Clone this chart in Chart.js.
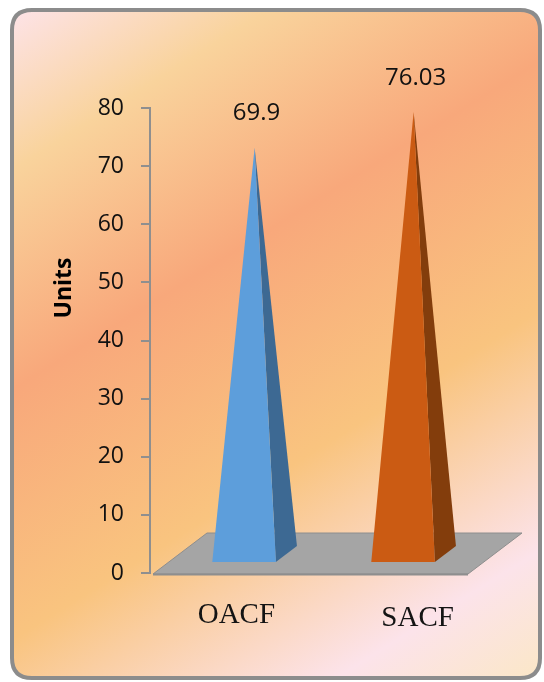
<!DOCTYPE html>
<html>
<head>
<meta charset="utf-8">
<script src="https://cdn.jsdelivr.net/npm/chart.js@4/dist/chart.umd.min.js"></script>
<style>
  html, body { margin: 0; padding: 0; background: #ffffff; }
  #wrap { width: 544px; height: 682px; }
</style>
</head>
<body>
<div id="wrap"><canvas id="chart" width="544" height="682"></canvas></div>
<script>
// Data
const categories = ['OACF', 'SACF'];
const unitValues = [69.9, 76.03];
const valueLabels = ['69.9', '76.03'];
const yMin = 0;
const yMax = 80;
const yStep = 10;
const axisTitle = 'Units';

// Look
const faceColors = ['#5d9edb', '#cb5b13'];
const sideColors = ['#3d6993', '#833d0c'];
const floorColor = '#a5a5a5';
const floorEdge = '#8e8e8e';
const axisColor = '#8f8f8f';

// 3-D projection: floor depth vector and the depth band each pyramid occupies
const DEPTH = { x: 54, y: -41 };
const BAR_BAND = [0.27, 0.66];

const FONT_SANS = "'Open Sans', 'DejaVu Sans', sans-serif";
const FONT_SERIF = "'Liberation Serif', 'Times New Roman', serif";

function roundRect(ctx, x, y, w, h, r) {
  ctx.beginPath();
  ctx.moveTo(x + r, y);
  ctx.lineTo(x + w - r, y);
  ctx.quadraticCurveTo(x + w, y, x + w, y + r);
  ctx.lineTo(x + w, y + h - r);
  ctx.quadraticCurveTo(x + w, y + h, x + w - r, y + h);
  ctx.lineTo(x + r, y + h);
  ctx.quadraticCurveTo(x, y + h, x, y + h - r);
  ctx.lineTo(x, y + r);
  ctx.quadraticCurveTo(x, y, x + r, y);
  ctx.closePath();
}

// Framed panel with the sunset gradient
const panelPlugin = {
  id: 'panel',
  beforeDraw(chart) {
    const ctx = chart.ctx;
    ctx.save();
    ctx.fillStyle = '#ffffff';
    ctx.fillRect(0, 0, chart.width, chart.height);
    const g = ctx.createLinearGradient(12, 10, 461, 730);
    g.addColorStop(0.00, '#fde3e8');
    g.addColorStop(0.16, '#f9d39c');
    g.addColorStop(0.38, '#f8a87b');
    g.addColorStop(0.63, '#f9c47f');
    g.addColorStop(0.87, '#fce3ea');
    g.addColorStop(1.00, '#fbe7c6');
    roundRect(ctx, 12, 10, 528, 668, 20);
    ctx.fillStyle = g;
    ctx.fill();
    ctx.lineWidth = 4;
    ctx.strokeStyle = '#8c8c8c';
    ctx.stroke();
    ctx.restore();
  }
};

// Floor, pyramids, value labels, category labels and axis title
const pyramidPlugin = {
  id: 'pyramids',
  beforeDatasetsDraw(chart) {
    const { ctx, chartArea, scales } = chart;
    const y0 = scales.y.getPixelForValue(0) + 1;
    const l = chartArea.left + 3, r = chartArea.right;
    ctx.save();
    ctx.beginPath();
    ctx.moveTo(l, y0);
    ctx.lineTo(r, y0);
    ctx.lineTo(r + DEPTH.x, y0 + DEPTH.y);
    ctx.lineTo(l + DEPTH.x, y0 + DEPTH.y);
    ctx.closePath();
    ctx.fillStyle = floorColor;
    ctx.fill();
    ctx.strokeStyle = floorEdge;
    ctx.lineWidth = 1;
    ctx.stroke();
    ctx.beginPath();
    ctx.moveTo(l, y0 + 0.5);
    ctx.lineTo(r, y0 + 0.5);
    ctx.lineWidth = 2;
    ctx.stroke();
    ctx.restore();
  },
  afterDatasetsDraw(chart) {
    const { ctx, scales } = chart;
    const meta = chart.getDatasetMeta(0);
    const y0 = scales.y.getPixelForValue(0);
    const f = BAR_BAND[0], b = BAR_BAND[1], m = (f + b) / 2;
    ctx.save();
    meta.data.forEach((el, i) => {
      const w = el.width;
      const fl = [el.x - w / 2 + DEPTH.x * f, y0 + DEPTH.y * f];
      const fr = [el.x + w / 2 + DEPTH.x * f, y0 + DEPTH.y * f];
      const br = [el.x + w / 2 + DEPTH.x * b, y0 + DEPTH.y * b];
      const apex = [el.x + DEPTH.x * m, scales.y.getPixelForValue(unitValues[i]) + DEPTH.y * m];

      ctx.beginPath();
      ctx.moveTo(fr[0], fr[1]);
      ctx.lineTo(br[0], br[1]);
      ctx.lineTo(apex[0], apex[1]);
      ctx.closePath();
      ctx.fillStyle = sideColors[i];
      ctx.fill();

      ctx.beginPath();
      ctx.moveTo(fl[0], fl[1]);
      ctx.lineTo(fr[0], fr[1]);
      ctx.lineTo(apex[0], apex[1]);
      ctx.closePath();
      ctx.fillStyle = faceColors[i];
      ctx.fill();

      ctx.fillStyle = '#111111';
      ctx.font = '24px ' + FONT_SANS;
      ctx.textAlign = 'center';
      ctx.textBaseline = 'middle';
      ctx.fillText(valueLabels[i], apex[0] + 2, apex[1] - 34);
    });
    ctx.restore();
  },
  afterDraw(chart) {
    const { ctx, chartArea, scales } = chart;
    ctx.save();
    // category names sit along the widened front edge of the floor
    const mid = (chartArea.left + chartArea.right) / 2;
    ctx.fillStyle = '#141414';
    ctx.font = '29px ' + FONT_SERIF;
    ctx.textAlign = 'center';
    ctx.textBaseline = 'middle';
    categories.forEach((c, i) => {
      const cx = scales.x.getPixelForValue(i);
      const lx = mid + 18 + (cx - mid) * 1.14;
      ctx.fillText(c, lx, scales.y.getPixelForValue(0) + 42 + i * 3);
    });
    // axis title
    ctx.translate(64, 288);
    ctx.rotate(-Math.PI / 2);
    ctx.font = 'bold 23px ' + FONT_SANS;
    ctx.fillStyle = '#000000';
    ctx.fillText(axisTitle, 0, 0);
    ctx.restore();
  }
};

new Chart(document.getElementById('chart'), {
  type: 'bar',
  data: {
    labels: categories,
    datasets: [{
      data: unitValues,
      backgroundColor: 'rgba(0,0,0,0)',
      borderWidth: 0,
      barPercentage: 0.4,
      categoryPercentage: 1.0
    }]
  },
  options: {
    responsive: false,
    animation: false,
    devicePixelRatio: 1,
    layout: { padding: { left: 0, top: 108, right: 76, bottom: 109 } },
    plugins: { legend: { display: false }, tooltip: { enabled: false } },
    scales: {
      x: {
        display: true,
        ticks: { display: false },
        grid: { display: false, drawTicks: false },
        border: { display: false },
        afterFit(scale) { scale.width = scale.width; scale.height = 0; }
      },
      y: {
        min: yMin,
        max: yMax,
        ticks: {
          stepSize: yStep,
          padding: 17,
          color: '#111111',
          font: { family: FONT_SANS, size: 23 }
        },
        grid: {
          drawOnChartArea: false,
          drawTicks: true,
          tickLength: 9,
          color: axisColor,
          lineWidth: 2
        },
        border: { display: true, color: axisColor, width: 2 },
        afterFit(scale) { scale.width = 150; }
      }
    }
  },
  plugins: [panelPlugin, pyramidPlugin]
});
</script>
</body>
</html>
